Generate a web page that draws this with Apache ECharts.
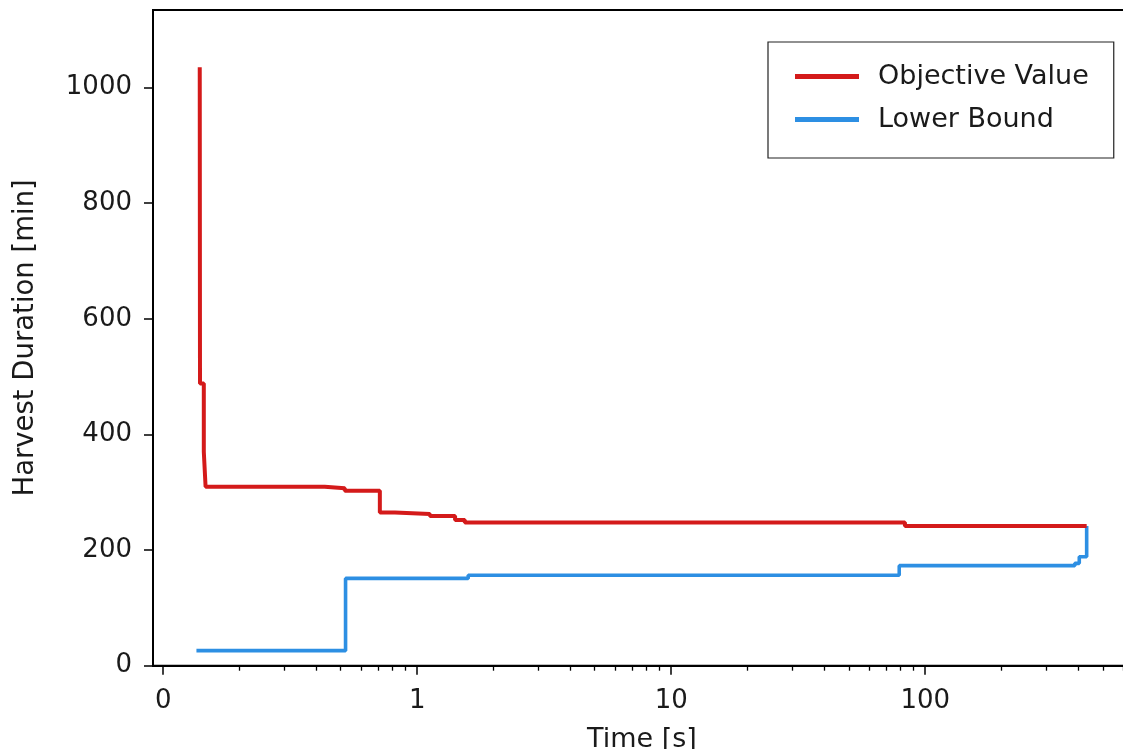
<!DOCTYPE html>
<html>
<head>
<meta charset="utf-8">
<script src="https://cdn.jsdelivr.net/npm/echarts@6/dist/echarts.min.js"></script>
<style>
  html, body { margin: 0; padding: 0; background: #fff; overflow: hidden; }
  #chart { width: 1123px; height: 749px; }
</style>
</head>
<body>
<div id="chart"></div>
<script>
// ---- Data (time in seconds, value in minutes) ----
const objTime  = [0.144, 0.145, 0.160, 0.167, 0.636, 0.715, 0.853, 0.912, 1.122, 1.41, 1.54, 83.2, 432];
const objValue = [1035,  488,   370,   309.5, 306.7, 302.6, 265,   262.3, 258.8, 252,  247.5, 241.5, 241.5];
const lbTime   = [0.131, 0.718, 1.588, 79.0, 388, 404,   432];
const lbValue  = [26,    151,   156.5, 173,  177, 188.5, 241.5];

const xTickValues = [0, 1, 10, 100];
const xTickLabels = ['0', '1', '10', '100'];
const yTickValues = [0, 200, 400, 600, 800, 1000];

const seriesNames = ['Objective Value', 'Lower Bound'];

// symlog transform (linthresh = 1, linscale = 1)
function symlog(t) { return t <= 1 ? t : 1 + Math.log10(t); }

const xMin = -0.04, xMax = 3.81;
const majorU = xTickValues.map(symlog);
const minorU = [];
for (let d = 0; d < 4; d++) {
  for (let k = 2; k <= 9; k++) {
    const u = d + Math.log10(k);
    if (u < xMax) minorU.push(u);
  }
}

const FONT = 'DejaVu Sans';
const chart = echarts.init(document.getElementById('chart'), null, { renderer: 'canvas' });

const axisLineStyle = { color: '#000', width: 2 };

chart.setOption({
  backgroundColor: '#fff',
  animation: false,
  textStyle: { fontFamily: FONT },
  grid: {
    left: 153, top: 10, width: 978, height: 655.7,
    containLabel: false, outerBoundsMode: 'none',
    show: true, borderColor: '#000', borderWidth: 2, backgroundColor: 'transparent'
  },
  legend: {
    left: 768, top: 42,
    orient: 'vertical',
    icon: 'rect',
    itemWidth: 64, itemHeight: 5,
    itemGap: 16,
    padding: [21, 25, 25, 27],
    borderColor: '#222', borderWidth: 1.2, borderRadius: 0,
    backgroundColor: '#fff',
    textStyle: { fontFamily: FONT, fontSize: 27, color: '#1a1a1a', padding: [0, 0, 0, 14] },
    data: seriesNames
  },
  xAxis: [
    {
      type: 'value', min: xMin, max: xMax,
      name: 'Time [s]', nameLocation: 'middle', nameGap: 61,
      nameTextStyle: { fontFamily: FONT, fontSize: 27, color: '#1a1a1a' },
      axisLine: { show: true, onZero: false, lineStyle: axisLineStyle },
      axisTick: { show: true, length: 9, lineStyle: { color: '#000', width: 1.5 }, customValues: majorU },
      axisLabel: {
        fontFamily: FONT, fontSize: 26, color: '#1a1a1a', margin: 23,
        customValues: majorU,
        formatter: function (v) {
          const i = majorU.findIndex(m => Math.abs(m - v) < 1e-6);
          return i >= 0 ? xTickLabels[i] : '';
        }
      },
      splitLine: { show: false }
    },
    {
      type: 'value', min: xMin, max: xMax, position: 'bottom',
      axisLine: { show: false, onZero: false },
      axisTick: { show: true, length: 5, lineStyle: { color: '#000', width: 1.3 }, customValues: minorU },
      axisLabel: { show: false },
      splitLine: { show: false }
    }
  ],
  yAxis: {
    type: 'value', min: 0, max: 1134,
    name: 'Harvest Duration [min]', nameLocation: 'middle', nameGap: 113, nameRotate: 90,
    nameTextStyle: { fontFamily: FONT, fontSize: 27.5, color: '#1a1a1a' },
    axisLine: { show: true, onZero: false, lineStyle: axisLineStyle },
    axisTick: { show: true, length: 9, lineStyle: { color: '#000', width: 1.5 }, customValues: yTickValues },
    axisLabel: {
      fontFamily: FONT, fontSize: 26, color: '#1a1a1a', margin: 21, customValues: yTickValues,
      formatter: function (v) { return String(v); }
    },
    splitLine: { show: false }
  },
  series: [
    {
      name: seriesNames[0], type: 'line', step: 'end', showSymbol: false, symbol: 'none',
      color: '#d41a1a',
      lineStyle: { color: '#d41a1a', width: 4 },
      data: objTime.map((t, i) => [symlog(t), objValue[i]]),
      z: 3
    },
    {
      name: seriesNames[1], type: 'line', step: 'end', showSymbol: false, symbol: 'none',
      color: '#2d8fe3',
      lineStyle: { color: '#2d8fe3', width: 3.6 },
      data: lbTime.map((t, i) => [symlog(t), lbValue[i]]),
      z: 2
    }
  ]
});
</script>
</body>
</html>
